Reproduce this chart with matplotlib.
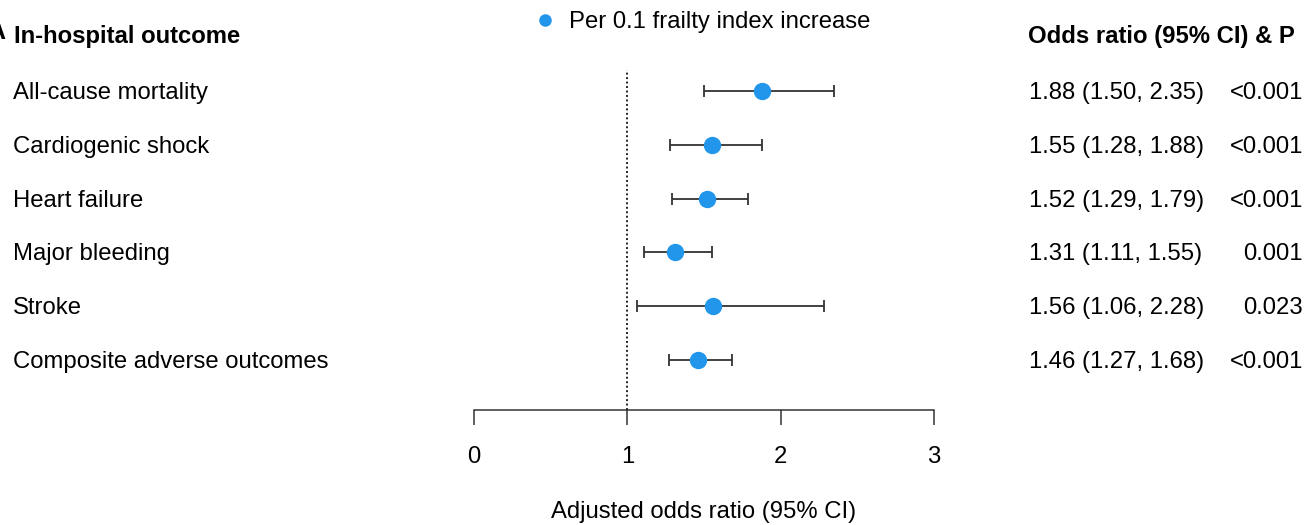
import matplotlib.pyplot as plt
from matplotlib.transforms import blended_transform_factory, offset_copy
from matplotlib.lines import Line2D

# Data
outcomes = ["All-cause mortality", "Cardiogenic shock", "Heart failure",
            "Major bleeding", "Stroke", "Composite adverse outcomes"]
odds = [1.88, 1.55, 1.52, 1.31, 1.56, 1.46]
lower = [1.50, 1.28, 1.29, 1.11, 1.06, 1.27]
upper = [2.35, 1.88, 1.79, 1.55, 2.28, 1.68]
p_values = ["<0.001", "<0.001", "<0.001", "0.001", "0.023", "<0.001"]
x_ticks = [0, 1, 2, 3]

W, H = 1307, 525
blue = "#2196EA"
fs = 17.2
plt.rcParams["font.family"] = ["Liberation Sans", "DejaVu Sans"]

fig = plt.figure(figsize=(W / 100, H / 100), dpi=100)

# plot area: x 0..3 spans pixels 474..934, axis line at y=410
ax = fig.add_axes([474 / W, (H - 410) / H, (934 - 474) / W, (410 - 70) / H])
row_px = 53.8
ax.set_xlim(0, 3)
ax.set_ylim(5 + (410 - 360) / row_px, -(91 - 70) / row_px)

ypos = list(range(len(outcomes)))
err = [[o - l for o, l in zip(odds, lower)], [u - o for o, u in zip(odds, upper)]]
ax.errorbar(odds, ypos, xerr=err, fmt="none", ecolor="#333333", elinewidth=1.3,
            capsize=4.5, capthick=1.3, zorder=2)
ax.plot(odds, ypos, "o", color=blue, markersize=11.5, zorder=3)
ax.axvline(1, color="#222222", linestyle=(0, (1, 1.3)), linewidth=1.4, zorder=1)

for s in ["top", "left", "right"]:
    ax.spines[s].set_visible(False)
ax.spines["bottom"].set_color("#333333")
ax.spines["bottom"].set_linewidth(1.1)
ax.set_yticks([])
ax.set_xticks(x_ticks)
ax.tick_params(axis="x", length=11, width=1.1, color="#333333", pad=15, labelsize=fs)
ax.set_xlabel("Adjusted odds ratio (95% CI)", fontsize=fs, labelpad=24)

# text columns (nudged 2 px down to sit level with the markers)
tr = offset_copy(blended_transform_factory(fig.transFigure, ax.transData),
                 fig=fig, y=-2, units="dots")
for i, name in enumerate(outcomes):
    ax.text(13 / W, ypos[i], name, transform=tr, fontsize=fs, va="center", ha="left")
    ax.text(1029 / W, ypos[i], f"{odds[i]:.2f} ({lower[i]:.2f}, {upper[i]:.2f})",
            transform=tr, fontsize=fs, va="center", ha="left")
    ax.text(1303 / W, ypos[i], p_values[i], transform=tr, fontsize=fs, va="center", ha="right")

fig.text(14 / W, 1 - 36 / H, "In-hospital outcome", fontsize=fs, fontweight="bold",
         va="center", ha="left")
fig.text(5 / W, 1 - 32 / H, "A", fontsize=18, fontweight="bold", va="center", ha="right")
fig.text(1028 / W, 1 - 36 / H, "Odds ratio (95% CI) & P", fontsize=fs, fontweight="bold",
         va="center", ha="left")

# legend
fig.add_artist(Line2D([545 / W], [1 - 20 / H], marker="o", color=blue, markersize=8,
                      linestyle="none", transform=fig.transFigure))
fig.text(569 / W, 1 - 22 / H, "Per 0.1 frailty index increase", fontsize=fs,
         va="center", ha="left")

fig.savefig("out.png", dpi=100)
